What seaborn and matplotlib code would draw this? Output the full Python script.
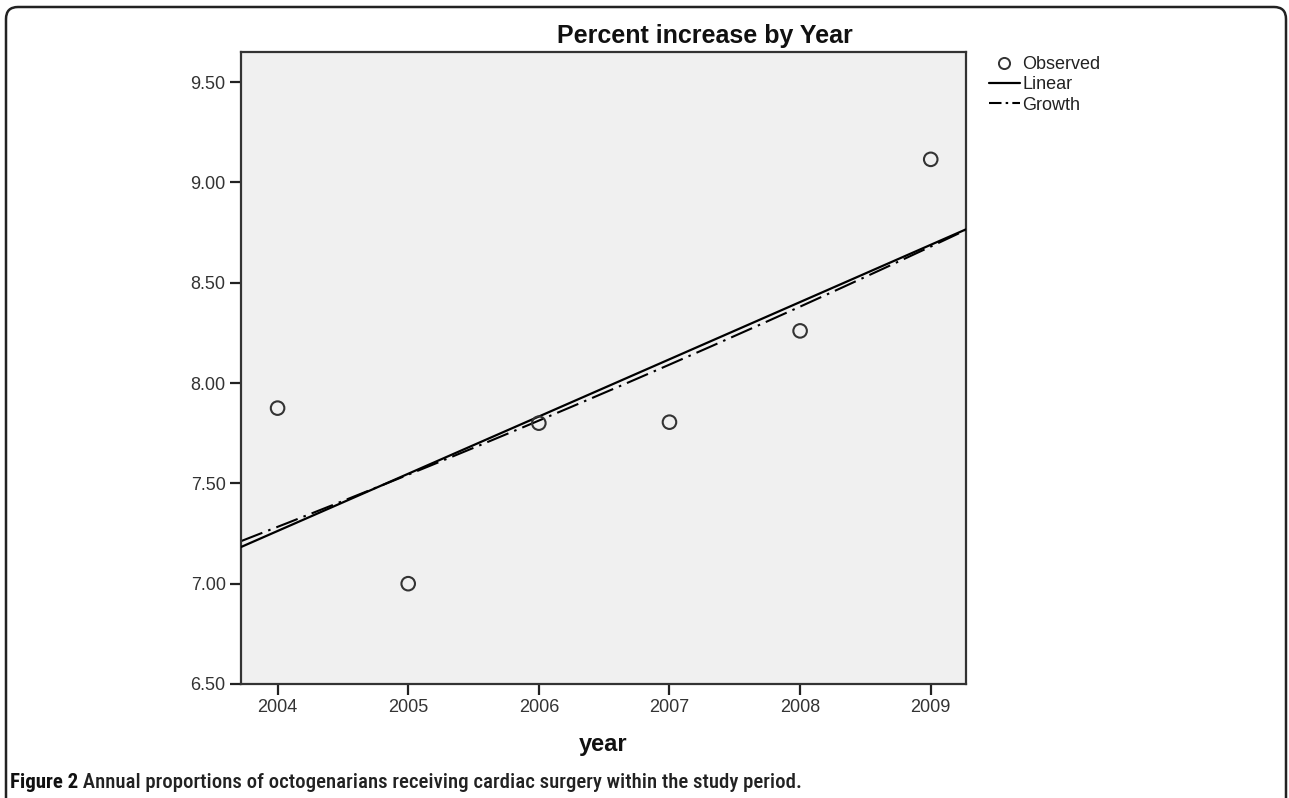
import numpy as np
import pandas as pd
import seaborn as sns
import matplotlib.pyplot as plt
from matplotlib.patches import FancyBboxPatch
from matplotlib.lines import Line2D
from matplotlib.transforms import IdentityTransform

# ---- data ----
years = [2004, 2005, 2006, 2007, 2008, 2009]
percent = [7.875, 7.00, 7.80, 7.805, 8.26, 9.115]
y_ticks = [6.50, 7.00, 7.50, 8.00, 8.50, 9.00, 9.50]
title_text = "Percent increase by Year"
x_label = "year"
legend_labels = ["Observed", "Linear", "Growth"]
caption_bold = "Figure 2"
caption_rest = " Annual proportions of octogenarians receiving cardiac surgery within the study period."

sns.set_theme(style="white")
plt.rcParams['font.family'] = ['Liberation Sans', 'DejaVu Sans']
cap_family = ['Roboto Condensed', 'DejaVu Sans Condensed', 'Liberation Sans Narrow',
              'Liberation Sans', 'DejaVu Sans']

W, H = 1289, 798
fig = plt.figure(figsize=(W / 100, H / 100), dpi=100)
ax = fig.add_axes([241 / W, 1 - 684 / H, (966 - 241) / W, (684 - 52) / H])
ax.set_facecolor('#f0f0f0')
ax.set_xlim(2003.72, 2009.27)
ax.set_ylim(6.5, 9.65)

df = pd.DataFrame({'year': years, 'pct': percent})

# linear fit
sns.regplot(data=df, x='year', y='pct', ax=ax, ci=None, truncate=False,
            scatter=False, line_kws=dict(color='black', lw=1.6, zorder=3))

# growth (exponential) fit
slope, intercept = np.polyfit(df['year'] - 2004, np.log(df['pct']), 1)
xs = np.linspace(*ax.get_xlim(), 200)
growth = pd.DataFrame({'year': xs, 'pct': np.exp(intercept + slope * (xs - 2004))})
sns.lineplot(data=growth, x='year', y='pct', ax=ax, color='black', lw=1.5, zorder=2.5)
ax.lines[-1].set_dashes((11, 3, 1.2, 3))

# observed
sns.scatterplot(data=df, x='year', y='pct', ax=ax, color='none', edgecolor='#333333',
                linewidth=1.5, s=95, zorder=4)

ax.set_xticks(years)
ax.set_xticklabels([str(y) for y in years])
ax.set_yticks(y_ticks)
ax.set_yticklabels([f"{v:.2f}" for v in y_ticks])
ax.tick_params(bottom=True, left=True, direction='out', length=8, width=1.6,
               color='#222222', labelsize=13, labelcolor='#333333', pad=3)
for s in ax.spines.values():
    s.set_color('#333333')
    s.set_linewidth(1.6)
ax.set_ylabel('')
ax.set_xlabel(x_label, fontsize=17, fontweight='bold', color='#111111', labelpad=12)

fig.text(705 / W, 1 - 36 / H, title_text, ha='center', va='center',
         fontsize=18, fontweight='bold', color='#111111')

handles = [
    Line2D([], [], marker='o', ls='none', mfc='none', mec='#333333', mew=1.4, ms=8),
    Line2D([], [], color='black', lw=1.6),
    Line2D([], [], color='black', lw=1.5, dashes=(6, 2, 1.2, 2)),
]
fig.legend(handles, legend_labels, loc='upper left', bbox_to_anchor=(989 / W, 1 - 56 / H),
           frameon=False, fontsize=13, handlelength=1.7, handletextpad=0.15,
           labelspacing=0.18, borderpad=0, borderaxespad=0, labelcolor='#222222')

# outer rounded frame
frame = FancyBboxPatch((6, -30), 1280, 798 - 7 + 30, boxstyle='round,pad=0,rounding_size=12',
                       transform=IdentityTransform(), fill=False, lw=1.8, ec='#222222')
fig.patches.append(frame)

cap = fig.text(10 / W, 1 - 783 / H, caption_bold, ha='left', va='center', fontsize=15,
               fontweight='bold', color='#111111', family=cap_family)
ax.annotate(caption_rest, xy=(1, 0.5), xycoords=cap, ha='left', va='center',
            fontsize=15, fontweight='medium', color='#222222', family=cap_family)

fig.savefig('out.png', dpi=100)
